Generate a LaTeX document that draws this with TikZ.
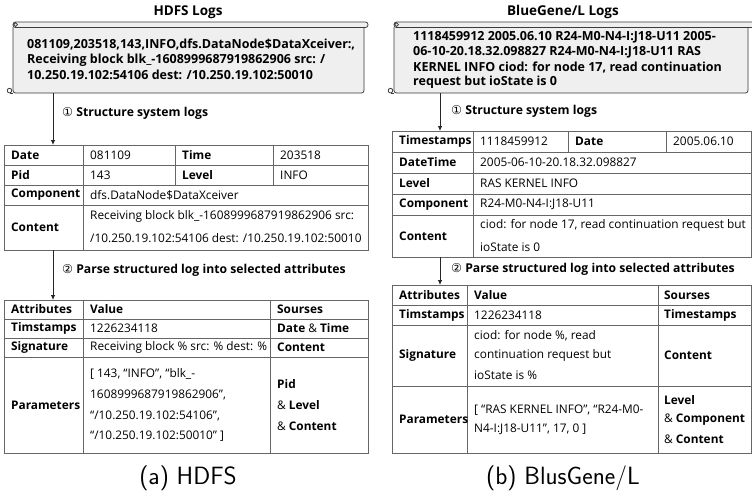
\documentclass[tikz,border=0pt]{standalone}
\usepackage{fontspec}
\setmainfont{Open Sans}
\newfontfamily\circfont{DejaVu Sans}
\usetikzlibrary{arrows.meta}
\definecolor{scrollfill}{HTML}{EFEFEF}
\definecolor{scrolldraw}{HTML}{3C3C3C}
\definecolor{gridline}{HTML}{666666}
\newcommand\tabfont{\fontsize{11.85}{14}\selectfont}
\newcommand\logfont{\fontsize{12.5}{14}\selectfont\bfseries}
\newcommand\myscroll[3]{%
  \draw[scrollline, fill=scrollfill, rounded corners=2.5pt] (#1,27) -- (#1,93) -- (#2,93) -- (#2,27);
  \draw[scrollline, fill=scrollfill, rounded corners=2.5pt] (#1,22) rectangle (#3,27.5);
  \draw[scrollline] (#1+2.6,24.6) circle (1.9pt);
  \draw[scrollline] (#1-3.5,90.6) circle (2.3pt);
  \draw[scrollline] (#1-3.5,92.9) -- (#1,92.9);
}
\begin{document}
\begin{tikzpicture}[x=1pt,y=-1pt,
  scrollline/.style={draw=scrolldraw, line width=0.8pt},
  grid/.style={draw=gridline, line width=0.6pt},
  frame/.style={grid, anchor=north west, inner sep=0pt, outer sep=0pt},
  cell/.style={anchor=west, inner sep=0pt, font=\tabfont},
  hcell/.style={cell, font=\tabfont\bfseries},
  logtxt/.style={anchor=west, inner sep=0pt, font=\logfont},
  ttl/.style={inner sep=0pt, font=\fontsize{13.5}{15}\selectfont\bfseries},
  steplabel/.style={anchor=west, inner sep=0pt, font=\fontsize{12.2}{14}\selectfont\bfseries},
  captxt/.style={inner sep=0pt, font=\fontsize{25}{30}\selectfont\sffamily},
  arr/.style={draw=black!85, line width=0.8pt, -{Latex[length=5pt,width=4.5pt]}}]
\useasboundingbox (0,0) rectangle (752,496);

%================ LEFT: HDFS =================
\node[ttl] (lt) at (188,12) {HDFS Logs};
\myscroll{13}{364}{368}
\node[logtxt] (l1) at (27,45) {081109,203518,143,INFO,dfs.DataNode\$DataXceiver:,};
\node[logtxt] (l2) at (27,60) {Receiving block blk\_-1608999687919862906 src: /};
\node[logtxt] (l3) at (27,75) {10.250.19.102:54106 dest: /10.250.19.102:50010};
\coordinate (ls) at (53,93);

\node[steplabel] (lstep1) at (62,113) {{\circfont\mdseries ①} Structure system logs};

% table 1
\node[frame, minimum width=364pt, minimum height=105pt] (T1) at (4,145) {};
\draw[grid] (4,165) -- (368,165) (4,185) -- (368,185) (4,205) -- (368,205);
\draw[grid] (83,145) -- (83,250) (175,145) -- (175,185) (273,145) -- (273,185);
\node[hcell] (t1a) at (11,155) {Date};
\node[cell]  (t1b) at (90,155) {081109};
\node[hcell] (t1c) at (182,155) {Time};
\node[cell]  (t1d) at (280,155) {203518};
\node[hcell] (t1e) at (11,175) {Pid};
\node[cell]  (t1f) at (90,175) {143};
\node[hcell] (t1g) at (182,175) {Level};
\node[cell]  (t1h) at (280,175) {INFO};
\node[hcell] (t1i) at (11,195) {Component};
\node[cell]  (t1j) at (90,195) {dfs.DataNode\$DataXceiver};
\node[hcell] (t1k) at (11,227.5) {Content};
\node[cell]  (t1l) at (90,216.5) {Receiving block blk\_-1608999687919862906 src:};
\node[cell]  (t1m) at (90,238.5) {/10.250.19.102:54106 dest: /10.250.19.102:50010};

\draw[arr] (ls) -- (ls |- T1.north);

\node[steplabel] (lstep2) at (62,270) {{\circfont\mdseries ②} Parse structured log into selected attributes};

% table 2
\node[frame, minimum width=364pt, minimum height=153pt] (T2) at (4,300) {};
\draw[grid] (4,319) -- (368,319) (4,338) -- (368,338) (4,357) -- (368,357);
\draw[grid] (83,300) -- (83,453) (270,300) -- (270,453);
\draw[arr] (ls |- T1.south) -- (ls |- T2.north);
\node[hcell] (t2a) at (11,309.5) {Attributes};
\node[hcell] (t2b) at (90,309.5) {Value};
\node[hcell] (t2c) at (277,309.5) {Sourses};
\node[hcell] (t2d) at (11,328.5) {Timstamps};
\node[cell]  (t2e) at (90,328.5) {1226234118};
\node[cell]  (t2f) at (277,328.5) {\textbf{Date} \& \textbf{Time}};
\node[hcell] (t2g) at (11,347.5) {Signature};
\node[cell]  (t2h) at (90,347.5) {Receiving block \% src: \% dest: \%};
\node[hcell] (t2i) at (277,347.5) {Content};
\node[hcell] (t2j) at (11,405) {Parameters};
\node[cell]  (t2k) at (90,373.5) {[ 143, “INFO”, “blk\_-};
\node[cell]  (t2l) at (90,394.5) {1608999687919862906”,};
\node[cell]  (t2m) at (90,415.5) {“/10.250.19.102:54106”,};
\node[cell]  (t2n) at (90,436.5) {“/10.250.19.102:50010” ]};
\node[hcell] (t2o) at (277,384) {Pid};
\node[cell]  (t2p) at (277,405) {\& \textbf{Level}};
\node[cell]  (t2q) at (277,426) {\& \textbf{Content}};

\node[captxt] (capa) at (188,478) {(a) HDFS};

%================ RIGHT: BlueGene/L =================
\node[ttl] (rt) at (563,12) {BlueGene/L Logs};
\myscroll{394}{748}{756}
\node[logtxt] (r1) at (413,37.5) {1118459912 2005.06.10 R24-M0-N4-I:J18-U11 2005-};
\node[logtxt] (r2) at (413,52.5) {06-10-20.18.32.098827 R24-M0-N4-I:J18-U11 RAS};
\node[logtxt] (r3) at (413,67.5) {KERNEL INFO ciod: for node 17, read continuation};
\node[logtxt] (r4) at (413,82.5) {request but ioState is 0};
\coordinate (rs) at (440,93);

\node[steplabel] (rstep1) at (451,111) {{\circfont\mdseries ①} Structure system logs};

% table 3
\node[frame, minimum width=359pt, minimum height=126pt] (T3) at (392,131) {};
\draw[grid] (392,152) -- (751,152) (392,173) -- (751,173) (392,194) -- (751,194) (392,215) -- (751,215);
\draw[grid] (473,131) -- (473,257) (568,131) -- (568,152) (666,131) -- (666,152);
\draw[arr] (rs) -- (rs |- T3.north);
\node[hcell] (t3a) at (399,141.5) {Timestamps};
\node[cell]  (t3b) at (480,141.5) {1118459912};
\node[hcell] (t3c) at (575,141.5) {Date};
\node[cell]  (t3d) at (673,141.5) {2005.06.10};
\node[hcell] (t3e) at (399,162.5) {DateTime};
\node[cell]  (t3f) at (480,162.5) {2005-06-10-20.18.32.098827};
\node[hcell] (t3g) at (399,183.5) {Level};
\node[cell]  (t3h) at (480,183.5) {RAS KERNEL INFO};
\node[hcell] (t3i) at (399,204.5) {Component};
\node[cell]  (t3j) at (480,204.5) {R24-M0-N4-I:J18-U11};
\node[hcell] (t3k) at (399,236) {Content};
\node[cell]  (t3l) at (480,225) {ciod: for node 17, read continuation request but};
\node[cell]  (t3m) at (480,247) {ioState is 0};

\node[steplabel] (rstep2) at (451,269) {{\circfont\mdseries ②} Parse structured log into selected attributes};

% table 4
\node[frame, minimum width=359pt, minimum height=168pt] (T4) at (392,285) {};
\draw[grid] (392,305) -- (751,305) (392,325) -- (751,325) (392,386) -- (751,386);
\draw[grid] (467,285) -- (467,453) (658,285) -- (658,453);
\draw[arr] (rs |- T3.south) -- (rs |- T4.north);
\node[hcell] (t4a) at (399,295) {Attributes};
\node[hcell] (t4b) at (474,295) {Value};
\node[hcell] (t4c) at (664,295) {Sourses};
\node[hcell] (t4d) at (399,315) {Timstamps};
\node[cell]  (t4e) at (474,315) {1226234118};
\node[hcell] (t4f) at (664,315) {Timestamps};
\node[hcell] (t4g) at (399,355.5) {Signature};
\node[cell]  (t4h) at (474,336) {ciod: for node \%, read};
\node[cell]  (t4i) at (474,355.5) {continuation request but};
\node[cell]  (t4j) at (474,375) {ioState is \%};
\node[hcell] (t4k) at (664,355.5) {Content};
\node[hcell] (t4l) at (399,419.5) {Parameters};
\node[cell]  (t4m) at (474,410) {[ “RAS KERNEL INFO”, “R24-M0-};
\node[cell]  (t4n) at (474,429) {N4-I:J18-U11”, 17, 0 ]};
\node[hcell] (t4o) at (664,400) {Level};
\node[cell]  (t4p) at (664,419.5) {\& \textbf{Component}};
\node[cell]  (t4q) at (664,439) {\& \textbf{Content}};

\node[captxt] (capb) at (563,478) {(b) BlusGene/L};
\end{tikzpicture}
\end{document}
